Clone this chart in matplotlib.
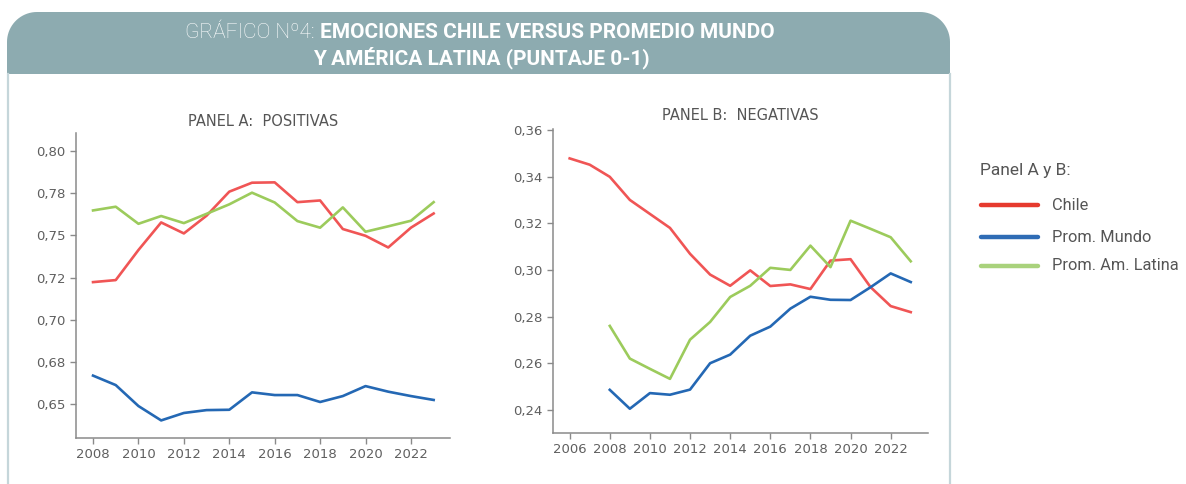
import numpy as np
import matplotlib
matplotlib.use("Agg")
import matplotlib.pyplot as plt
from matplotlib import font_manager

# --- data ---
years_a = list(range(2008, 2024))
chile_a = [0.7223, 0.7235, 0.7413, 0.7576, 0.7511, 0.7616, 0.7758, 0.7811,
           0.7813, 0.7696, 0.7706, 0.7537, 0.7497, 0.7428, 0.7545, 0.7629]
latam_a = [0.7647, 0.7669, 0.7568, 0.7614, 0.7572, 0.7627, 0.7683, 0.7752,
           0.7694, 0.7584, 0.7545, 0.7665, 0.7521, 0.7553, 0.7586, 0.7696]
mundo_a = [0.6670, 0.6614, 0.6490, 0.6405, 0.6449, 0.6466, 0.6468, 0.6571,
           0.6555, 0.6555, 0.6514, 0.6549, 0.6608, 0.6575, 0.6549, 0.6526]

years_chile_b = list(range(2006, 2024))
chile_b = [0.3479, 0.3452, 0.3400, 0.3301, 0.3241, 0.3181, 0.3070, 0.2981, 0.2933,
           0.2999, 0.2932, 0.2939, 0.2919, 0.3041, 0.3047, 0.2927, 0.2846, 0.2820]
years_b = list(range(2008, 2024))
latam_b = [0.2761, 0.2621, 0.2577, 0.2534, 0.2702, 0.2778, 0.2885, 0.2933,
           0.3010, 0.3001, 0.3105, 0.3013, 0.3212, 0.3177, 0.3141, 0.3038]
mundo_b = [0.2487, 0.2406, 0.2473, 0.2466, 0.2488, 0.2601, 0.2638, 0.2719,
           0.2758, 0.2835, 0.2886, 0.2873, 0.2872, 0.2927, 0.2986, 0.2949]

yticks_a = [0.65, 0.675, 0.70, 0.725, 0.75, 0.775, 0.80]
ylabels_a = ["0,65", "0,68", "0,70", "0,72", "0,75", "0,78", "0,80"]
yticks_b = [0.24, 0.26, 0.28, 0.30, 0.32, 0.34, 0.36]
ylabels_b = ["0,24", "0,26", "0,28", "0,30", "0,32", "0,34", "0,36"]
xticks_a = list(range(2008, 2023, 2))
xticks_b = list(range(2006, 2023, 2))

series_names = ["Chile", "Prom. Mundo", "Prom. Am. Latina"]
line_colors = ["#f05555", "#2468b4", "#9ccb5c"]
key_colors = ["#e63a2e", "#2f6cb5", "#a9d27c"]


def pick_font(names):
    have = {f.name for f in font_manager.fontManager.ttflist}
    for n in names:
        if n in have:
            return n
    return "DejaVu Sans"


narrow = pick_font(["Liberation Sans Narrow", "Roboto", "DejaVu Sans"])
tickfont = "DejaVu Sans"

W, H = 1186, 484
fig = plt.figure(figsize=(W / 100, H / 100), dpi=100)

# background / frame drawn in pixel coordinates
bg = fig.add_axes([0, 0, 1, 1], zorder=-5)
bg.set_xlim(0, W)
bg.set_ylim(H, 0)
bg.axis("off")

x0, x1, y0, y1, r = 7, 950, 12, 74, 30
t1 = np.linspace(np.pi, np.pi / 2, 20)
t2 = np.linspace(np.pi / 2, 0, 20)
px = np.concatenate([[x0], x0 + r + r * np.cos(t1), x1 - r + r * np.cos(t2), [x1, x0]])
py = np.concatenate([[y1], y0 + r - r * np.sin(t1), y0 + r - r * np.sin(t2), [y1, y1]])
bg.fill(px, py, color="#8dabb0", lw=0)
bg.plot([8, 8], [74, H], color="#c5d6da", lw=1.6)
bg.plot([950, 950], [74, H], color="#c5d6da", lw=1.6)


def px_axes(left, top, right, bottom):
    return fig.add_axes([left / W, 1 - bottom / H, (right - left) / W, (bottom - top) / H])


def style(ax):
    for s in ["top", "right"]:
        ax.spines[s].set_visible(False)
    for s in ["left", "bottom"]:
        ax.spines[s].set_color("#8a8a8a")
        ax.spines[s].set_linewidth(1.1)
    ax.tick_params(colors="#8a8a8a", labelcolor="#5f5f5f", length=4, width=1,
                   labelsize=9.5)
    for lab in ax.get_xticklabels() + ax.get_yticklabels():
        lab.set_fontfamily(tickfont)


# Panel A
axa = px_axes(76, 133, 450, 438)
axa.plot(years_a, chile_a, color=line_colors[0], lw=1.9)
axa.plot(years_a, mundo_a, color=line_colors[1], lw=1.9)
axa.plot(years_a, latam_a, color=line_colors[2], lw=1.9)
axa.set_xlim(2007.25, 2023.72)
axa.set_ylim(0.6301, 0.8105)
axa.set_xticks(xticks_a)
axa.set_yticks(yticks_a, ylabels_a)
style(axa)

# Panel B
axb = px_axes(553, 129, 928, 433)
axb.plot(years_chile_b, chile_b, color=line_colors[0], lw=1.9)
axb.plot(years_b, mundo_b, color=line_colors[1], lw=1.9)
axb.plot(years_b, latam_b, color=line_colors[2], lw=1.9)
axb.set_xlim(2005.17, 2023.86)
axb.set_ylim(0.2302, 0.3605)
axb.set_xticks(xticks_b)
axb.set_yticks(yticks_b, ylabels_b)
style(axb)

fig.text(263 / W, 1 - 121 / H, "PANEL A:  POSITIVAS", ha="center", va="center",
         fontsize=10.5, color="#555555", family=tickfont)
fig.text(740 / W, 1 - 116 / H, "PANEL B:  NEGATIVAS", ha="center", va="center",
         fontsize=10.5, color="#555555", family=tickfont)

# title in the header band
renderer = fig.canvas.get_renderer()
tl = fig.text(0, 1 - 32 / H, "GRÁFICO Nº4: ", ha="left", va="center", fontsize=15,
              color="white", family=narrow, fontweight="light")
tb = fig.text(0, 1 - 32 / H, "EMOCIONES CHILE VERSUS PROMEDIO MUNDO", ha="left",
              va="center", fontsize=15, color="white", family=narrow, fontweight="bold")
wl = tl.get_window_extent(renderer).width
wb = tb.get_window_extent(renderer).width
start = 480 - (wl + wb) / 2
tl.set_x(start / W)
tb.set_x((start + wl) / W)
fig.text(481 / W, 1 - 58 / H, "Y AMÉRICA LATINA (PUNTAJE 0-1)", ha="center", va="center",
         fontsize=15, color="white", family=narrow, fontweight="bold")

# legend
fig.text(980 / W, 1 - 171 / H, "Panel A y B:", ha="left", va="center", fontsize=12.5,
         color="#555555", family=narrow)
for name, col, yy in zip(series_names, key_colors, [205, 237, 266]):
    bg.plot([981, 1038], [yy, yy], color=col, lw=3.2, solid_capstyle="round")
    bg.text(1052, yy, name, ha="left", va="center", fontsize=11.8, color="#555555",
            family=narrow)

fig.savefig("out.png", dpi=100)
